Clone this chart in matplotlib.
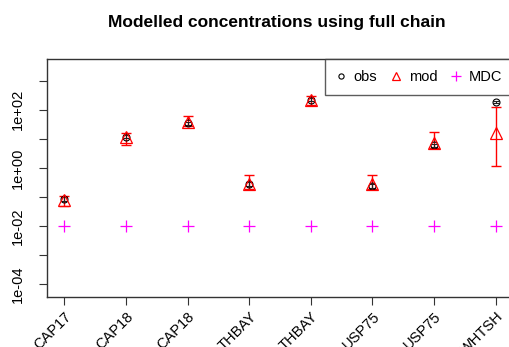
import matplotlib
matplotlib.use("Agg")
import matplotlib.pyplot as plt
import numpy as np

plt.rcParams["font.family"] = ["Liberation Sans", "DejaVu Sans"]

sites = ["CAP17", "CAP18", "CAP18", "THBAY", "THBAY", "USP75", "USP75", "WHTSH"]
obs = [0.083, 12.0, 35.0, 0.28, 220.0, 0.24, 6.0, 185.0]
obs_lo = [0.070, 10.5, 31.0, 0.24, 195.0, 0.21, 5.3, 170.0]
obs_hi = [0.097, 13.5, 39.0, 0.32, 245.0, 0.27, 6.8, 200.0]
mod = [0.080, 12.0, 37.6, 0.28, 215.0, 0.275, 7.1, 16.0]
mod_lo = [0.047, 5.9, 28.0, 0.19, 148.0, 0.19, 4.8, 1.17]
mod_hi = [0.11, 15.8, 62.0, 0.56, 290.0, 0.56, 16.6, 129.0]
mdc = [0.01] * 8

x = np.arange(1, len(sites) + 1)

fig = plt.figure(figsize=(5.09, 3.47), dpi=100)
W, H = 509, 347
left, right, top, bottom = 47, 513, 59, 297
ax = fig.add_axes([left / W, 1 - bottom / H, (right - left) / W, (bottom - top) / H])
ax.set_yscale("log")

ax.errorbar(x, mod, yerr=[np.array(mod) - np.array(mod_lo), np.array(mod_hi) - np.array(mod)],
            fmt="none", ecolor="red", elinewidth=1, capsize=3.5, capthick=1, zorder=2)
ax.errorbar(x, obs, yerr=[np.array(obs) - np.array(obs_lo), np.array(obs_hi) - np.array(obs)],
            fmt="none", ecolor="#222222", elinewidth=0.8, capsize=2.5, capthick=0.8, zorder=3)
ax.plot(x, obs, "o", mfc="none", mec="black", ms=5, mew=0.8, label="obs", zorder=4)
ax.plot(x, mod, "^", mfc="none", mec="red", ms=8, mew=0.9, label="mod", zorder=4)
ax.plot(x, mdc, "+", color="magenta", ms=9, mew=0.9, label="MDC", zorder=4)

lo, hi = 10 ** -4.45, 10 ** 3.75
ax.set_ylim(lo, hi)
ax.set_xlim(0.72, 8.28)

yt = [10.0 ** k for k in range(-4, 4)]
ax.set_yticks(yt)
labels = []
for k in range(-4, 4):
    if k % 2 == 0:
        labels.append("1e%s%02d" % ("-" if k < 0 else "+", abs(k)))
    else:
        labels.append("")
ax.set_yticklabels(labels, rotation=90, va="center", fontsize=10.5)
ax.yaxis.set_minor_locator(matplotlib.ticker.NullLocator())
ax.tick_params(axis="y", length=6, width=0.8, color="#333333", pad=10)

ax.set_xticks(x)
ax.set_xticklabels(sites, rotation=45, ha="right", rotation_mode="anchor", fontsize=10.5)
ax.tick_params(axis="x", length=6, width=0.8, color="#333333", pad=3)

for s in ax.spines.values():
    s.set_color("#333333")
    s.set_linewidth(1.0)

leg = ax.legend(loc="upper right", ncol=3, frameon=True, fancybox=False, fontsize=10.5,
                handlelength=0.7, handletextpad=0.55, columnspacing=0.9,
                borderpad=0.75, bbox_to_anchor=(1.0, 1.0), borderaxespad=0.0,
                markerscale=0.75)
leg.get_frame().set_edgecolor("#333333")
leg.get_frame().set_linewidth(1.0)

fig.text(277 / W, 1 - 23 / H, "Modelled concentrations using full chain",
         ha="center", va="center", fontsize=12.5, fontweight="bold")

fig.savefig("out.png", dpi=100)
